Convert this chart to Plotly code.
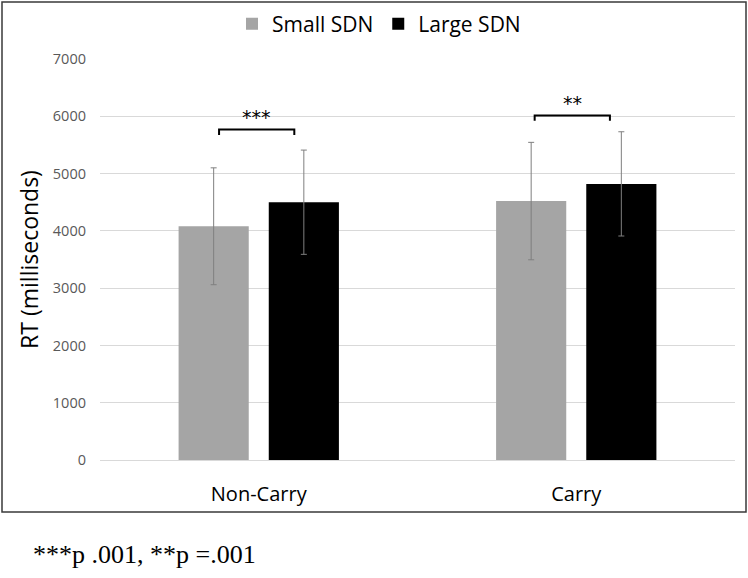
import plotly.graph_objects as go

categories = ["Non-Carry", "Carry"]
small_sdn = [4080, 4520]
small_sd = [1020, 1025]
large_sdn = [4500, 4820]
large_sd = [910, 910]
y_ticks = [0, 1000, 2000, 3000, 4000, 5000, 6000, 7000]
sig_labels = ["***", "**"]
sig_bracket_y = [5770, 6015]
footnote = "***p .001, **p =.001"

W, H = 748, 578
L, R, T, B = 100, 13, 59, 118
pw, ph = W - L - R, H - T - B

def px_x(p):
    return (p - L) / pw

def px_y(p):
    return 1 - (p - T) / ph

FONT = "Open Sans"

fig = go.Figure()
fig.add_trace(go.Bar(
    x=categories, y=small_sdn, name="Small SDN",
    marker=dict(color="#a5a5a5", line=dict(width=0)),
    error_y=dict(type="data", array=small_sd, color="#7f7f7f", thickness=1, width=3),
))
fig.add_trace(go.Bar(
    x=categories, y=large_sdn, name="Large SDN",
    marker=dict(color="#000000", line=dict(width=0)),
    error_y=dict(type="data", array=large_sd, color="#7f7f7f", thickness=1, width=3),
))

shapes = []
annotations = []
offsets = [(-0.125, 0.112), (-0.131, 0.106)]
for i, (lab, yb) in enumerate(zip(sig_labels, sig_bracket_y)):
    x0 = i + offsets[i][0]
    x1 = i + offsets[i][1]
    leg = 95
    shapes.append(dict(type="path", xref="x", yref="y",
                       path=f"M {x0},{yb-leg} L {x0},{yb} L {x1},{yb} L {x1},{yb-leg}",
                       line=dict(color="#000000", width=2)))
    annotations.append(dict(x=(x0 + x1) / 2, y=yb, xref="x", yref="y", text=lab,
                            showarrow=False, yanchor="bottom", yshift=-1,
                            font=dict(family="DejaVu Sans", size=19, color="#000000")))

# outer border
shapes.append(dict(type="rect", xref="paper", yref="paper",
                   x0=px_x(2), x1=px_x(746), y0=px_y(512), y1=px_y(2),
                   line=dict(color="#3a3a3a", width=1.5), fillcolor="rgba(0,0,0,0)", layer="below"))

annotations.append(dict(x=px_x(31), y=px_y(554), xref="paper", yref="paper", text=footnote,
                        showarrow=False, xanchor="left", yanchor="middle",
                        font=dict(family="Liberation Serif", size=26, color="#000000")))

fig.update_layout(
    width=W, height=H,
    margin=dict(l=L, r=R, t=T, b=B, autoexpand=False),
    paper_bgcolor="white", plot_bgcolor="white",
    barmode="group", bargap=0.432, bargroupgap=0.222,
    font=dict(family=FONT, color="#000000"),
    legend=dict(orientation="h", x=px_x(379), xanchor="center", y=px_y(24), yanchor="middle",
                font=dict(size=21, color="#000000"), itemwidth=30, bgcolor="rgba(0,0,0,0)"),
    shapes=shapes, annotations=annotations,
    showlegend=True,
)
fig.update_yaxes(range=[0, 7000], tickvals=y_ticks, showgrid=True, gridcolor="#d9d9d9",
                 gridwidth=1, zeroline=False, showline=False,
                 tickfont=dict(family=FONT, size=14.5, color="#595959"), ticklabelstandoff=13,
                 title=dict(text="RT (milliseconds)", font=dict(family=FONT, size=23, color="#000000"), standoff=7))
fig.update_xaxes(showline=True, linecolor="#d9d9d9", linewidth=1, ticks="",
                 tickfont=dict(family=FONT, size=20, color="#000000"), ticklabelstandoff=16)

fig.write_html("out.html")
